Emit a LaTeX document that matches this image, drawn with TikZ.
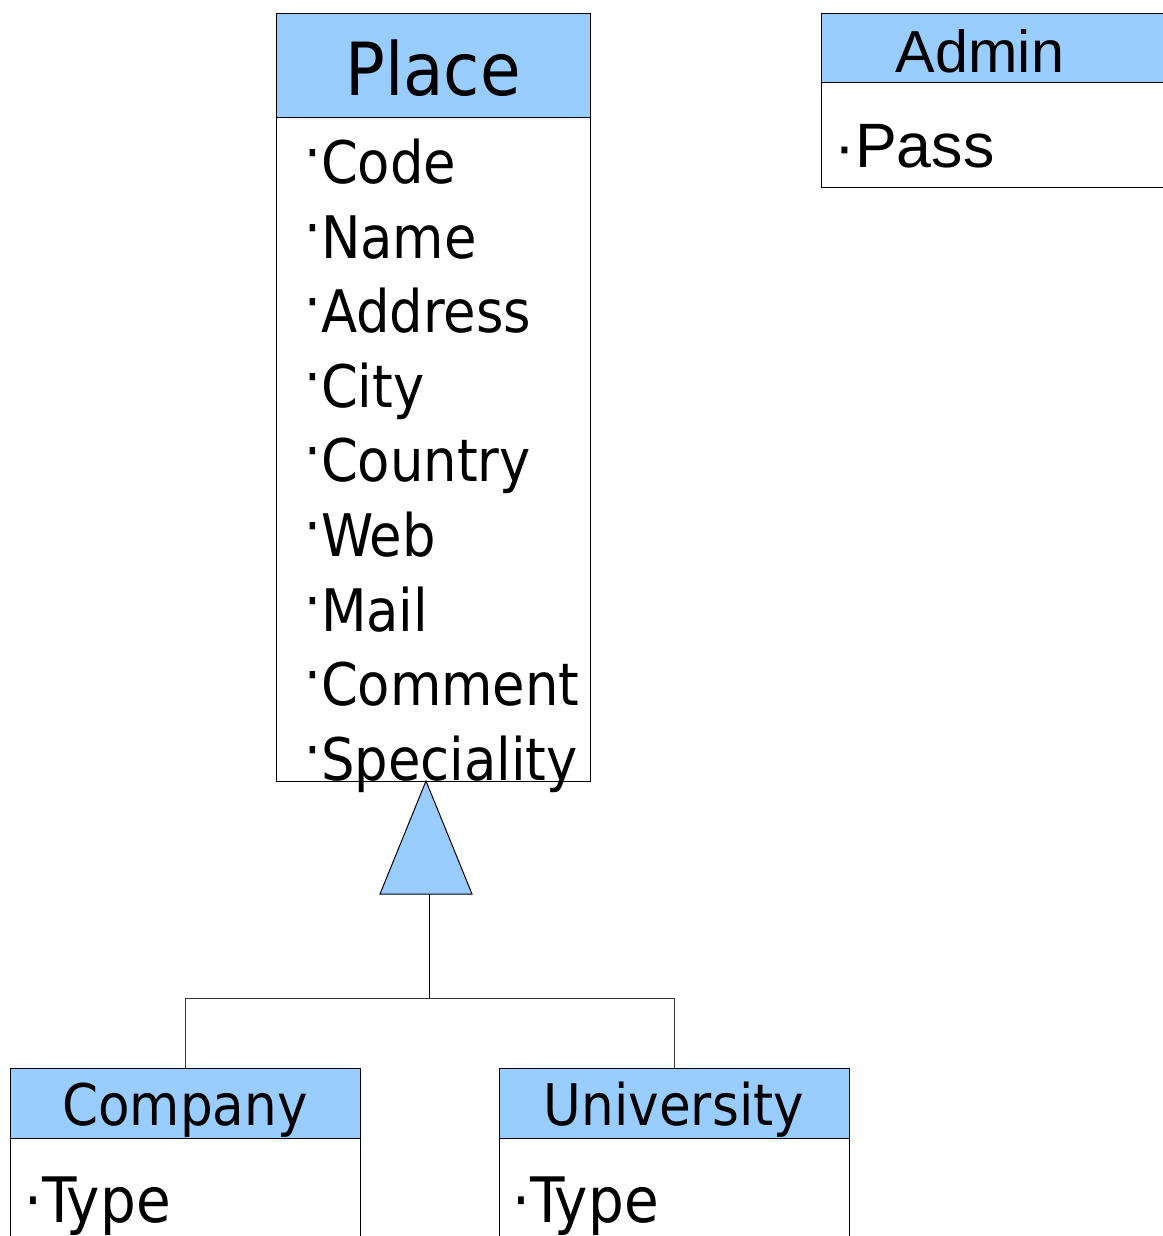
\documentclass[tikz,border=0pt]{standalone}
\usepackage{fontspec}
\setmainfont{DejaVu Sans Condensed}
\newfontfamily\arialf{Liberation Sans}
\definecolor{headblue}{HTML}{99CCFF}
\definecolor{edgegray}{HTML}{333333}
\newcommand{\pbul}{\raisebox{0.16em}{·}}
\begin{document}
\begin{tikzpicture}[x=0.75pt,y=-0.75pt,
  boxpart/.style={draw=black, line width=0.75pt, inner sep=0pt, outer sep=0pt, anchor=north west},
  headpart/.style={boxpart, fill=headblue},
  bodypart/.style={boxpart, fill=white},
  attr/.style={anchor=base west, inner sep=0pt, font=\fontsize{44}{44}\selectfont},
  title/.style={anchor=base, inner sep=0pt},
  link/.style={draw=black, line width=0.75pt}]
\clip (0,0) rectangle (1163,1236);
\fill[white] (0,0) rectangle (1163,1236);
% Place
\node[headpart, minimum width={314*0.75pt}, minimum height={104*0.75pt}] (placehead) at (276,13) {};
\node[bodypart, minimum width={314*0.75pt}, minimum height={664*0.75pt}] (placebody) at (276,117) {};
\node[title, font=\fontsize{55}{55}\selectfont] (placetitle) at (433,95) {Place};
\node[attr] (a1) at (304,183) {\pbul Code};
\node[attr] (a2) at (304,258) {\pbul Name};
\node[attr] (a3) at (304,332) {\pbul Address};
\node[attr] (a4) at (304,407) {\pbul City};
\node[attr] (a5) at (304,481) {\pbul Country};
\node[attr] (a6) at (304,556) {\pbul Web};
\node[attr] (a7) at (304,631) {\pbul Mail};
\node[attr] (a8) at (304,705) {\pbul Comment};
\node[attr] (a9) at (304,780) {\pbul Speciality};
% Admin
\node[headpart, minimum width={360*0.75pt}, minimum height={69*0.75pt}] (adminhead) at (821,13) {};
\node[bodypart, minimum width={360*0.75pt}, minimum height={105*0.75pt}] (adminbody) at (821,82) {};
\node[title, font=\arialf\fontsize{44.5}{44.5}\selectfont] (admintitle) at (980,72) {Admin};
\node[attr, font=\arialf\fontsize{47}{47}\selectfont] (pass) at (834,167) {·Pass};
% Company
\node[headpart, minimum width={350*0.75pt}, minimum height={70*0.75pt}] (comphead) at (10,1068) {};
\node[bodypart, minimum width={350*0.75pt}, minimum height={120*0.75pt}] (compbody) at (10,1138) {};
\node[title, font=\fontsize{43}{43}\selectfont] (comptitle) at (185,1125) {Company};
\node[attr, font=\fontsize{47}{47}\selectfont] (ctype) at (24,1222) {·Type};
% University
\node[headpart, minimum width={350*0.75pt}, minimum height={70*0.75pt}] (unihead) at (499,1068) {};
\node[bodypart, minimum width={350*0.75pt}, minimum height={120*0.75pt}] (unibody) at (499,1138) {};
\node[title, font=\fontsize{43}{43}\selectfont] (unititle) at (674,1125) {University};
\node[attr, font=\fontsize{47}{47}\selectfont] (utype) at (512,1222) {·Type};
% generalization
\coordinate (apex) at (426,781);
\coordinate (tl) at (380,894);
\coordinate (tr) at (472,894);
\coordinate (tbase) at (429,894);
\coordinate (junction) at (429,998);
\draw[fill=headblue, draw=black, line width=0.75pt] (apex) -- (tl) -- (tr) -- cycle;
\draw[link] (tbase) -- (junction);
\draw[link, draw=edgegray] (junction) -| (comphead.north);
\draw[link, draw=edgegray] (junction) -| (unihead.north);
\end{tikzpicture}
\end{document}
